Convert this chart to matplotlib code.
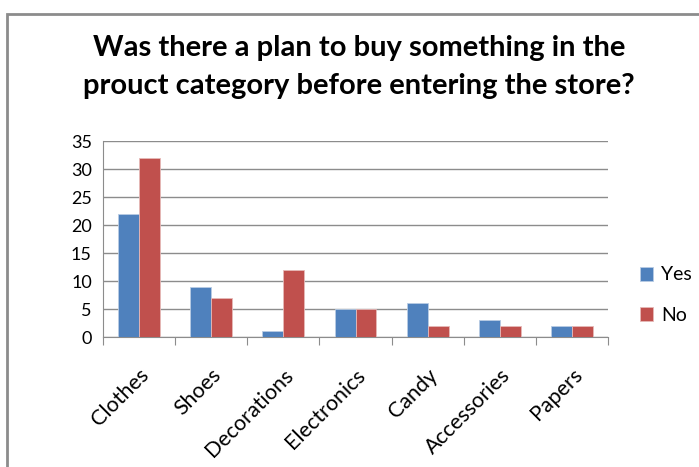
import matplotlib
matplotlib.use("Agg")
import matplotlib.pyplot as plt
from matplotlib.patches import Rectangle
import numpy as np

categories = ["Clothes", "Shoes", "Decorations", "Electronics", "Candy", "Accessories", "Papers"]
yes_values = [22, 9, 1, 5, 6, 3, 2]
no_values = [32, 7, 12, 5, 2, 2, 2]
y_ticks = [0, 5, 10, 15, 20, 25, 30, 35]

W, H = 699, 467
fig = plt.figure(figsize=(W / 100, H / 100), dpi=100)
plt.rcParams['font.family'] = ['Lato', 'DejaVu Sans']

# chart frame (extends past the right and bottom edges)
fig.patches.append(Rectangle((7 / W, -0.1), 1.1, 1 - 14 / H + 0.1,
                             transform=fig.transFigure, fill=False,
                             edgecolor="#8c8c8c", linewidth=2))

left, right, top, bottom = 103, 608, 141, 337
ax = fig.add_axes([left / W, 1 - bottom / H, (right - left) / W, (bottom - top) / H])

x = np.arange(len(categories))
bw = 0.29
ax.bar(x - bw / 2, yes_values, bw, color="#4F81BD", edgecolor="#b8cce4", linewidth=0.6, label="Yes", zorder=3)
ax.bar(x + bw / 2, no_values, bw, color="#C0504D", edgecolor="#e6b9b8", linewidth=0.6, label="No", zorder=3)

ax.set_xlim(-0.5, len(categories) - 0.5)
ax.set_ylim(0, 35)
ax.set_yticks(y_ticks)
ax.set_yticklabels([str(v) for v in y_ticks], fontsize=13)
ax.yaxis.grid(True, color="#8c8c8c", linewidth=1)
ax.set_axisbelow(True)
ax.tick_params(axis="y", length=0, pad=8)

# category boundaries as tick marks, labels at the centres
ax.set_xticks(np.arange(len(categories) + 1) - 0.5)
ax.set_xticklabels([])
ax.set_xticks(x, minor=True)
ax.set_xticklabels(categories, minor=True, rotation=45, ha="right",
                   rotation_mode="anchor", fontsize=15.5)
ax.tick_params(axis="x", which="major", length=6, color="#8c8c8c", direction="out")
ax.tick_params(axis="x", which="minor", length=0, pad=20)

for s in ["top", "right"]:
    ax.spines[s].set_visible(False)
ax.spines["left"].set_color("#8c8c8c")
ax.spines["bottom"].set_color("#8c8c8c")

fig.text(359 / W, 1 - 48 / H, "Was there a plan to buy something in the",
         ha="center", va="center", fontsize=21, fontweight="bold")
fig.text(359 / W, 1 - 86 / H, "prouct category before entering the store?",
         ha="center", va="center", fontsize=21, fontweight="bold")

leg = fig.legend(loc="upper left", bbox_to_anchor=(622 / W, 1 - 249 / H),
                 frameon=False, fontsize=14, handlelength=0.7, handleheight=0.7,
                 handletextpad=0.4, labelspacing=1.2)

fig.savefig("out.png", dpi=100)
